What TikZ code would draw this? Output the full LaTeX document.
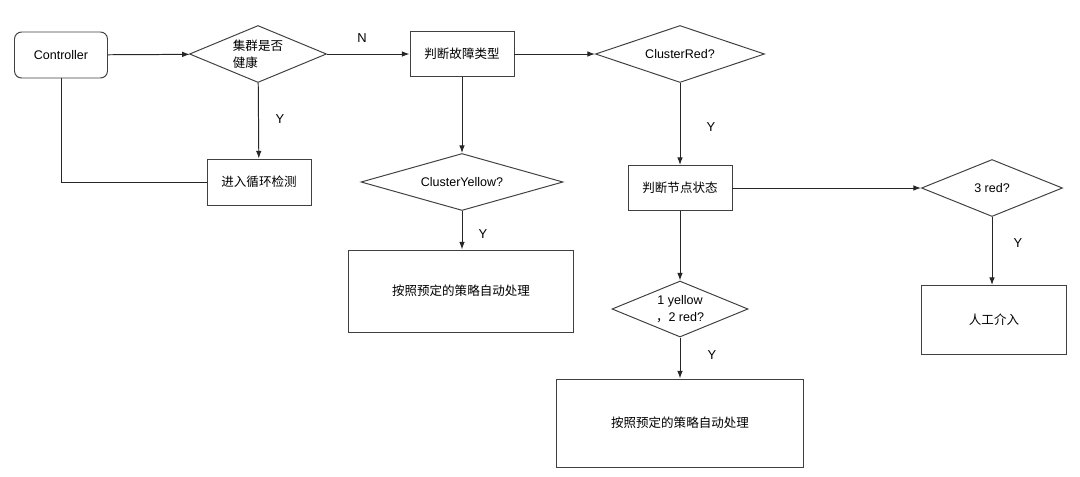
\documentclass[tikz,border=0pt]{standalone}
\usepackage{fontspec}
\setmainfont{Liberation Sans}
\newfontfamily\cjk{Noto Sans CJK SC}
\usetikzlibrary{arrows.meta,shapes.geometric}

\begin{document}
\begin{tikzpicture}[
    x=0.025cm, y=-0.025cm,
    >={Latex[length=5.5pt,width=4pt]},
    every node/.style={font=\fontsize{8.9}{12}\selectfont},
    box/.style={draw=black!75, line width=0.7pt, rectangle, inner sep=0pt},
    startbox/.style={box, rounded corners=5pt},
    decision/.style={draw=black!75, line width=0.7pt, diamond, inner sep=0pt},
    flow/.style={->, line width=0.7pt, black!85},
    link/.style={line width=0.7pt, black!85},
    lbl/.style={font=\fontsize{9.2}{11}\selectfont}
]
    \useasboundingbox (0,0) rectangle (1080,476);

    % first row
    \node[startbox, minimum width=93*0.025cm, minimum height=46*0.025cm] (ctrl) at (61,55) {Controller};
    \node[decision, aspect=2.4, minimum width=137*0.025cm, minimum height=57*0.025cm, align=left] (health) at (258,54) {\cjk 集群是否\\\cjk 健康};
    \node[box, minimum width=104*0.025cm, minimum height=45*0.025cm] (fault) at (462,54) {\cjk 判断故障类型};
    \node[decision, aspect=2.96, minimum width=169*0.025cm, minimum height=57*0.025cm] (red) at (680,54) {ClusterRed?};

    % second row
    \node[box, minimum width=104*0.025cm, minimum height=46*0.025cm] (loop) at (259,182) {\cjk 进入循环检测};
    \node[decision, aspect=3.54, minimum width=202*0.025cm, minimum height=57*0.025cm] (yellow) at (462,182) {ClusterYellow?};
    \node[box, minimum width=104*0.025cm, minimum height=45*0.025cm] (state) at (680,188) {\cjk 判断节点状态};
    \node[decision, aspect=2.47, minimum width=141*0.025cm, minimum height=57*0.025cm] (three) at (992,188) {3 red?};

    % lower part
    \node[box, minimum width=225*0.025cm, minimum height=82*0.025cm] (auto1) at (461,291) {\cjk 按照预定的策略自动处理};
    \node[decision, aspect=2.43, minimum width=136*0.025cm, minimum height=56*0.025cm, align=center] (mix) at (680,309) {1 yellow\\{\cjk ，}2 red?};
    \node[box, minimum width=145*0.025cm, minimum height=69*0.025cm] (manual) at (994,320) {\cjk 人工介入};
    \node[box, minimum width=247*0.025cm, minimum height=88*0.025cm] (auto2) at (680,423) {\cjk 按照预定的策略自动处理};

    % connectors
    \draw[flow] (ctrl) -- (health);
    \draw[flow] (health) -- (fault);
    \draw[flow] (health) -- (loop);
    \draw[link] (ctrl.south) |- (loop.west);
    \draw[flow] (fault) -- (red);
    \draw[flow] (fault.south) -- (yellow.north);
    \draw[flow] (yellow.south) -- (auto1.north -| yellow.south);
    \draw[flow] (red) -- (state);
    \draw[flow] (state) -- (three);
    \draw[flow] (three.south) -- (manual.north -| three.south);
    \draw[flow] (state) -- (mix);
    \draw[flow] (mix) -- (auto2);

    % branch labels
    \node[lbl] (nhealth) at (362,38) {N};
    \node[lbl] (yhealth) at (280,119) {Y};
    \node[lbl] (yyellow) at (483,234) {Y};
    \node[lbl] (yred) at (711,127) {Y};
    \node[lbl] (ythree) at (1018,243) {Y};
    \node[lbl] (ymix) at (712,355) {Y};
\end{tikzpicture}
\end{document}
